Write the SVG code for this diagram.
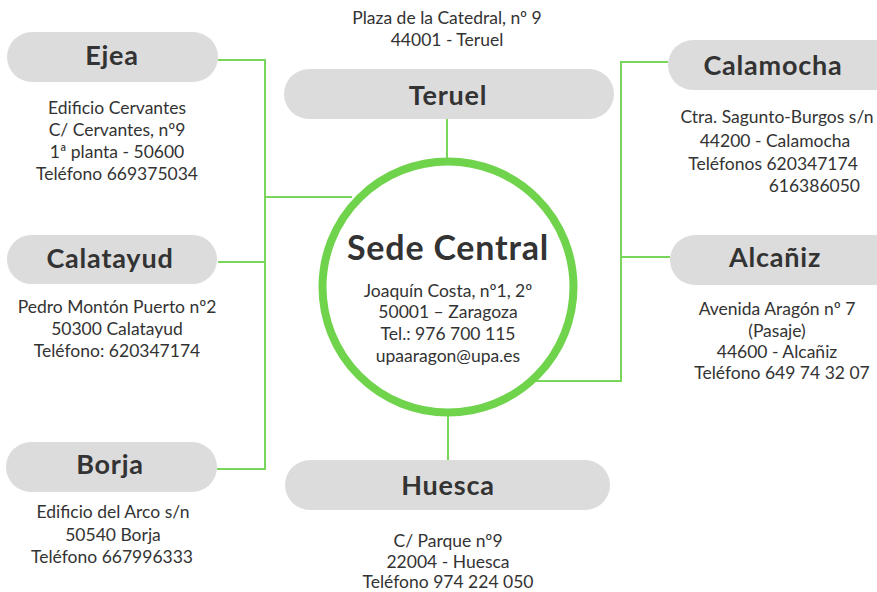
<svg xmlns="http://www.w3.org/2000/svg" width="877" height="592" viewBox="0 0 877 592">
<style>
.pill{fill:#dcdcdc}
.conn{stroke:#78d65a;stroke-width:2;fill:none}
.title{font-family:"Lato","Open Sans",sans-serif;font-weight:bold;font-size:27px;letter-spacing:0.8px;fill:#333;text-anchor:middle}
.body{font-family:"Lato","Open Sans",sans-serif;font-size:17.5px;fill:#333;text-anchor:middle}
</style>
<rect width="877" height="592" fill="#ffffff"/>
<g id="connectors">
<polyline class="conn" points="218,60 265,60 265,469 217,469"/>
<line class="conn" x1="218" y1="262" x2="265" y2="262"/>
<line class="conn" x1="265" y1="197" x2="352" y2="197"/>
<polyline class="conn" points="668,62 621,62 621,381 536,381"/>
<line class="conn" x1="621" y1="257" x2="670" y2="257"/>
<line class="conn" x1="447" y1="119" x2="447" y2="160"/>
<line class="conn" x1="448" y1="414" x2="448" y2="460"/>
</g>
<g id="sede">
<circle cx="448" cy="287" r="125.5" fill="#ffffff" stroke="#70d34c" stroke-width="8"/>
<text class="title" x="448" y="260" style="font-size:34px">Sede Central</text>
<text class="body" x="448" y="297">Joaquín Costa, nº1, 2º</text>
<text class="body" x="448" y="318">50001 – Zaragoza</text>
<text class="body" x="448" y="340">Tel.: 976 700 115</text>
<text class="body" x="448" y="362">upaaragon@upa.es</text>
</g>
<g id="teruel">
<text class="body" x="447" y="24">Plaza de la Catedral, nº 9</text>
<text class="body" x="447" y="46">44001 - Teruel</text>
<rect class="pill" x="284" y="69" width="330" height="50" rx="25"/>
<text class="title" x="448" y="105">Teruel</text>
</g>
<g id="ejea">
<rect class="pill" x="7" y="32" width="211" height="50" rx="25"/>
<text class="title" x="112" y="65">Ejea</text>
<text class="body" x="117" y="114">Edificio Cervantes</text>
<text class="body" x="117" y="136">C/ Cervantes, nº9</text>
<text class="body" x="117" y="158">1ª planta - 50600</text>
<text class="body" x="117" y="180">Teléfono 669375034</text>
</g>
<g id="calatayud">
<rect class="pill" x="7" y="235" width="210" height="49" rx="24.5"/>
<text class="title" x="110" y="268">Calatayud</text>
<text class="body" x="117" y="313">Pedro Montón Puerto nº2</text>
<text class="body" x="117" y="335">50300 Calatayud</text>
<text class="body" x="117" y="357">Teléfono: 620347174</text>
</g>
<g id="borja">
<rect class="pill" x="6" y="442" width="211" height="50" rx="25"/>
<text class="title" x="110" y="474">Borja</text>
<text class="body" x="113" y="518">Edificio del Arco s/n</text>
<text class="body" x="113" y="541">50540 Borja</text>
<text class="body" x="112" y="563">Teléfono 667996333</text>
</g>
<g id="calamocha">
<rect class="pill" x="668" y="40" width="234" height="50" rx="25"/>
<text class="title" x="773" y="75">Calamocha</text>
<text class="body" x="777" y="123">Ctra. Sagunto-Burgos s/n</text>
<text class="body" x="775" y="147">44200 - Calamocha</text>
<text class="body" x="773" y="170">Teléfonos 620347174</text>
<text class="body" x="860" y="192" style="text-anchor:end">616386050</text>
</g>
<g id="alcaniz">
<rect class="pill" x="670" y="235" width="232" height="50" rx="25"/>
<text class="title" x="775" y="267">Alcañiz</text>
<text class="body" x="777" y="315">Avenida Aragón nº 7</text>
<text class="body" x="777" y="337">(Pasaje)</text>
<text class="body" x="777" y="358">44600 - Alcañiz</text>
<text class="body" x="782" y="379">Teléfono 649 74 32 07</text>
</g>
<g id="huesca">
<rect class="pill" x="285" y="460" width="325" height="50" rx="25"/>
<text class="title" x="448" y="495">Huesca</text>
<text class="body" x="448" y="547">C/ Parque nº9</text>
<text class="body" x="448" y="568">22004 - Huesca</text>
<text class="body" x="448" y="588">Teléfono 974 224 050</text>
</g>
</svg>
